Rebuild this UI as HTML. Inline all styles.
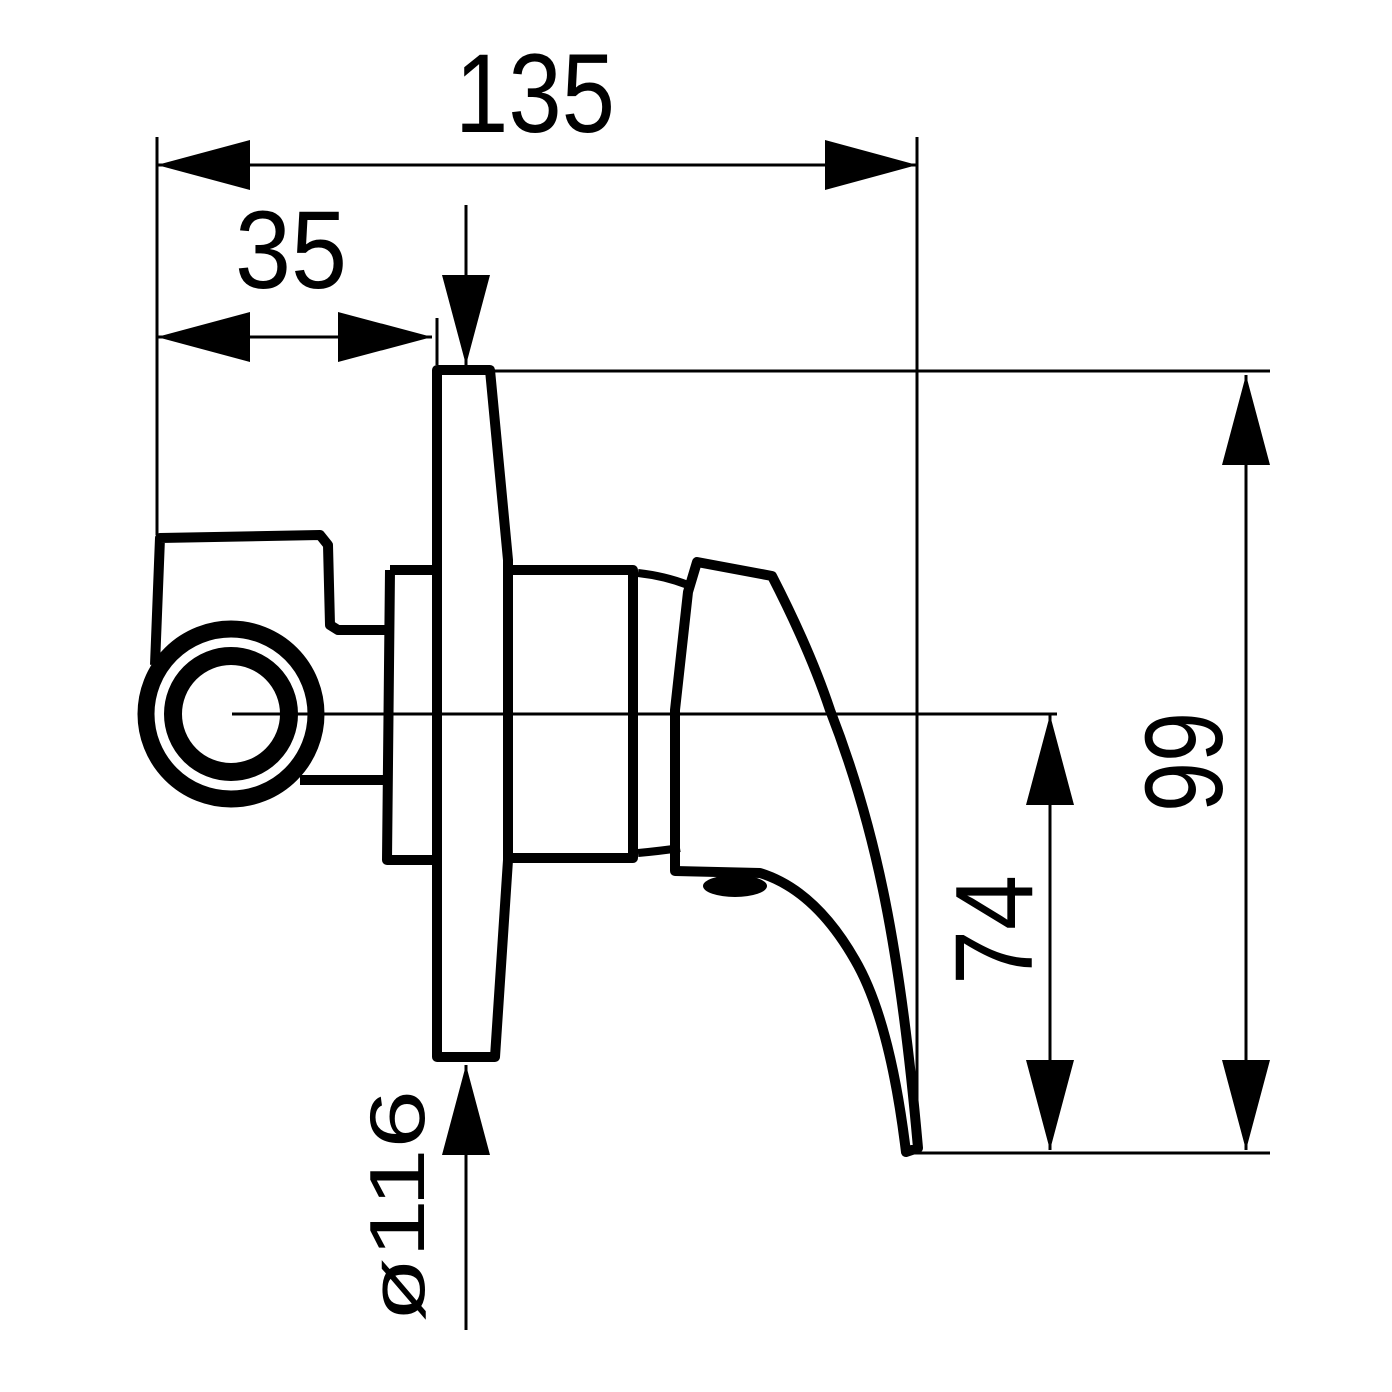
<!DOCTYPE html>
<html><head><style>html,body{margin:0;padding:0;background:#fff}svg{display:block}</style></head>
<body>
<svg width="1392" height="1392" viewBox="0 0 1392 1392" xmlns="http://www.w3.org/2000/svg">
<g stroke="#000" fill="none" stroke-width="3">
 <line x1="157" y1="137" x2="157" y2="535"/>
 <line x1="917" y1="137" x2="917" y2="1152"/>
 <line x1="157" y1="165" x2="917" y2="165"/>
 <line x1="157" y1="337" x2="432" y2="337"/>
 <line x1="437" y1="318" x2="437" y2="365"/>
 <line x1="466" y1="205" x2="466" y2="365"/>
 <line x1="466" y1="1065" x2="466" y2="1330"/>
 <line x1="495" y1="371" x2="1270" y2="371"/>
 <line x1="910" y1="1153" x2="1270" y2="1153"/>
 <line x1="1246" y1="375" x2="1246" y2="1150"/>
 <line x1="1050" y1="715" x2="1050" y2="1150"/>
 <line x1="232" y1="714" x2="1057" y2="714"/>
</g>
<g fill="#000">
 <polygon points="157,165 250,140 250,190"/>
 <polygon points="917,165 825,140 825,190"/>
 <polygon points="157,337 250,312 250,362"/>
 <polygon points="432,337 338,312 338,362"/>
 <polygon points="466,365 442,275 490,275"/>
 <polygon points="466,1065 442,1155 490,1155"/>
 <polygon points="1246,375 1222,465 1270,465"/>
 <polygon points="1246,1150 1222,1060 1270,1060"/>
 <polygon points="1050,715 1026,805 1074,805"/>
 <polygon points="1050,1150 1026,1060 1074,1060"/>
 <ellipse cx="735" cy="886" rx="32" ry="11"/>
</g>
<g stroke="#000" fill="none" stroke-width="10" stroke-linejoin="round">
 <circle cx="231" cy="714" r="85" stroke-width="17"/>
 <circle cx="231" cy="714" r="58" stroke-width="18"/>
 <path d="M155,665 L160,538 L320,535 L328,545 L330,625 L338,630 L385,630"/>
 <path d="M300,780 L385,780"/>
 <path d="M390,570 L437,570 M390,570 L387,860 L437,860"/>
 <path d="M437,370 L490,370 L508,560 L508,860 L495,1057 L437,1057 Z"/>
 <path d="M510,570 L633,570 L633,858 L510,858"/>
 <path d="M638,573 Q665,576 688,585 M638,853 Q660,851 680,848" stroke-width="8"/>
 <path d="M688,592 L697,562 L772,576 Q810,650 830,710 Q865,800 885,900 Q905,1000 918,1148 L906,1152 Q890,1020 855,960 Q815,890 760,873 L675,871 L675,710 Z"/>
</g>
<g font-family="Liberation Sans, sans-serif" fill="#000" font-size="112">
 <text x="455" y="132" textLength="160" lengthAdjust="spacingAndGlyphs">135</text>
 <text x="235" y="288" font-size="110" textLength="112" lengthAdjust="spacingAndGlyphs">35</text>
 <text transform="translate(1222,812) rotate(-90)" font-size="110" textLength="100" lengthAdjust="spacingAndGlyphs">99</text>
 <text transform="translate(1032,985) rotate(-90)" font-size="110" textLength="110" lengthAdjust="spacingAndGlyphs">74</text>
 <text transform="translate(424,1322) rotate(-90)" font-size="78" textLength="232" lengthAdjust="spacingAndGlyphs">ø116</text>
</g>
</svg>
</body></html>
